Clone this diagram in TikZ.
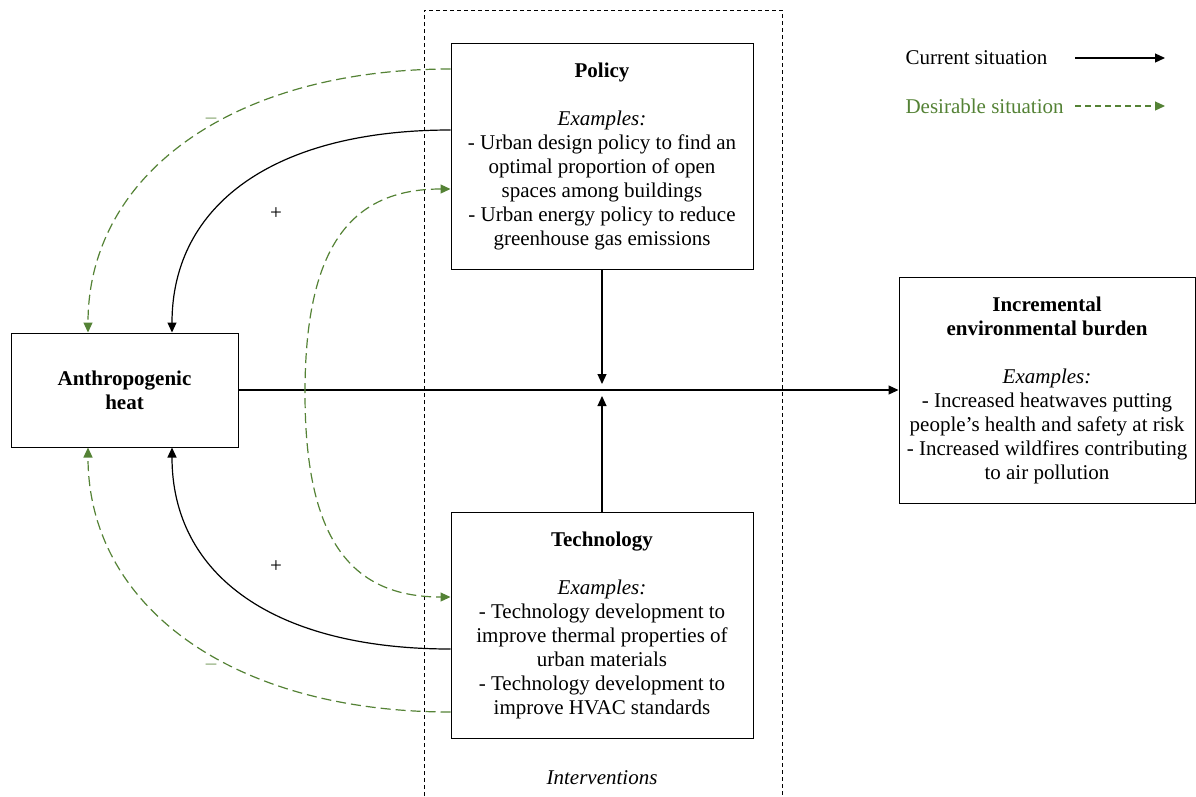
\documentclass[tikz,border=0pt]{standalone}
\usepackage{fontspec}
\setmainfont{Liberation Serif}
\usetikzlibrary{arrows.meta}
\definecolor{desgreen}{RGB}{84,130,53}
\begin{document}
\begin{tikzpicture}[x=1pt,y=-1pt,
  font=\fontsize{21}{24}\selectfont,
  >={Triangle[length=10pt,width=9pt]},
  box/.style={draw,line width=1pt,align=center,inner sep=0pt},
  cur/.style={line width=1.2pt,->},
  des/.style={desgreen,line width=1.2pt,dash pattern=on 10pt off 5pt,->}]
  \useasboundingbox (0,0) rectangle (1196,796);
  \draw[line width=1pt,dash pattern=on 4pt off 3pt]
    (424,796) -- (424,10) -- (782,10) -- (782,796);
  \node[box,minimum width=227pt,minimum height=114pt] (heat) at (124.5,390)
    {\textbf{Anthropogenic}\\\textbf{heat}};
  \node[box,minimum width=302pt,minimum height=226pt] (policy) at (602,156)
    {\textbf{Policy}\\[24pt]\textit{Examples:}\\- Urban design policy to find an\\optimal proportion of open\\spaces among buildings\\- Urban energy policy to reduce\\greenhouse gas emissions};
  \node[box,minimum width=302pt,minimum height=226pt] (tech) at (602,625)
    {\textbf{Technology}\\[24pt]\textit{Examples:}\\- Technology development to\\improve thermal properties of\\urban materials\\- Technology development to\\improve HVAC standards};
  \node[box,minimum width=296pt,minimum height=226pt] (burden) at (1047,390)
    {\textbf{Incremental}\\\textbf{environmental burden}\\[24pt]\textit{Examples:}\\- Increased heatwaves putting\\people’s health and safety at risk\\- Increased wildfires contributing\\to air pollution};
  \node (interv) at (602,778) {\textit{Interventions}};
  \coordinate (jn) at (602,384);
  \coordinate (js) at (602,396);
  \coordinate (bend) at (305,393);
  \draw[cur] (heat) -- (burden);
  \draw[cur] (policy) -- (jn);
  \draw[cur] (tech) -- (js);
  \draw[cur] ([yshift=26pt]policy.west) .. controls +(-176,0) and +(0,-128) .. ([xshift=47.5pt]heat.north);
  \draw[des] ([yshift=87pt]policy.west) .. controls +(-218,0) and +(0,-158) .. ([xshift=-36.5pt]heat.north);
  \draw[cur] ([yshift=-24pt]tech.west) .. controls +(-176,0) and +(0,128) .. ([xshift=47.5pt]heat.south);
  \draw[des] ([yshift=-87pt]tech.west) .. controls +(-218,0) and +(0,159) .. ([xshift=-36.5pt]heat.south);
  \draw[des,<->] ([yshift=-33pt]policy.west) .. controls +(-102,0) and +(0,-143) .. (bend)
    .. controls +(0,143) and +(-102,0) .. ([yshift=28pt]tech.west);
  \node[text=desgreen!75] (minusA) at (211,121) {–};
  \node (plusA) at (276,214) {+};
  \node (plusB) at (276,567) {+};
  \node[text=desgreen!75] (minusB) at (211,667) {–};
  \node[anchor=west] (curtext) at (902,58) {Current situation};
  \node[anchor=west,text=desgreen] (destext) at (902,106) {Desirable situation};
  \coordinate (cura) at (1075,58);
  \coordinate (curb) at (1165,58);
  \coordinate (desa) at (1075,106);
  \coordinate (desb) at (1165,106);
  \draw[cur] (cura) -- (curb);
  \draw[des,dash pattern=on 6pt off 4pt] (desa) -- (desb);
\end{tikzpicture}
\end{document}
